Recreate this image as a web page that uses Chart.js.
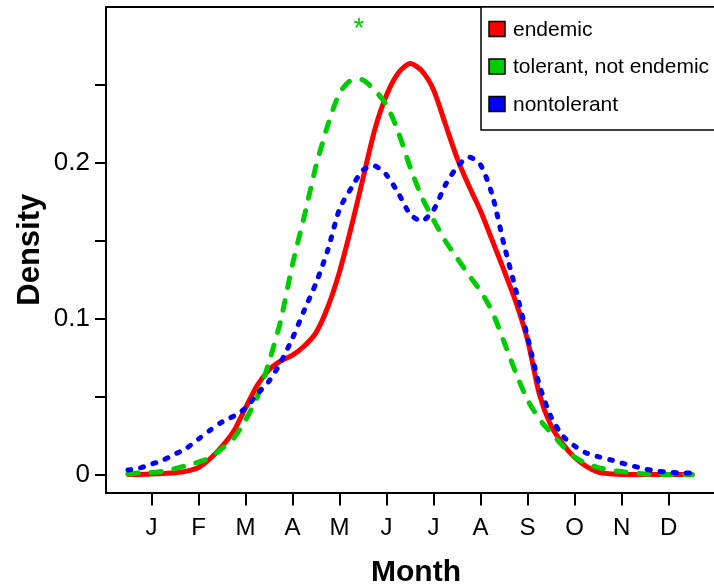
<!DOCTYPE html>
<html>
<head>
<meta charset="utf-8">
<script src="https://cdn.jsdelivr.net/npm/chart.js@4.4.1/dist/chart.umd.min.js"></script>
<style>
  html, body { margin: 0; padding: 0; background: #ffffff; overflow: hidden; }
  #wrap { width: 714px; height: 588px; position: relative; overflow: hidden; }
  #c { display: block; }
</style>
</head>
<body>
<div id="wrap"><canvas id="c" width="726" height="588"></canvas></div>
<script>
// ---- data ----
const MONTH_X = [0, 0.25, 0.5, 0.75, 1, 1.25, 1.5, 1.75, 2, 2.25, 2.5, 2.75, 3, 3.25, 3.5, 3.75,
  4, 4.25, 4.5, 4.75, 5, 5.25, 5.5, 5.75, 6, 6.25, 6.5, 6.75, 7, 7.25, 7.5, 7.75,
  8, 8.25, 8.5, 8.75, 9, 9.25, 9.5, 9.75, 10, 10.25, 10.5, 10.75, 11, 11.25, 11.5, 11.75, 12];

const ENDEMIC = [0, 0.0001, 0.0003, 0.0006, 0.0011, 0.0022, 0.0045, 0.0103, 0.0181, 0.0279,
  0.0428, 0.0572, 0.0671, 0.0728, 0.0766, 0.0824, 0.091, 0.1074, 0.1301, 0.1587,
  0.1901, 0.2212, 0.2433, 0.2574, 0.2635, 0.2587, 0.2465, 0.2247, 0.2029, 0.1851,
  0.1689, 0.1499, 0.1307, 0.1106, 0.0862, 0.0516, 0.0311, 0.0196, 0.0109, 0.0053,
  0.0016, 0.0005, 0.0001, 0, 0, 0, 0, 0, 0];

const TOLERANT = [0.0003, 0.001, 0.0013, 0.0022, 0.0038, 0.0058, 0.008, 0.0109, 0.0167, 0.0234,
  0.0349, 0.0497, 0.0721, 0.099, 0.1349, 0.1657, 0.1978, 0.224, 0.2446, 0.2529,
  0.2529, 0.2462, 0.2369, 0.2195, 0.1971, 0.1779, 0.1631, 0.1497, 0.1388, 0.1279,
  0.1176, 0.1042, 0.0849, 0.0651, 0.0478, 0.0356, 0.0266, 0.0183, 0.0112, 0.0071,
  0.0045, 0.0029, 0.0019, 0.001, 0.0003, 0, 0, 0, 0];

const NONTOLERANT = [0.0029, 0.0042, 0.0067, 0.0093, 0.0131, 0.017, 0.0228, 0.0285, 0.0337, 0.0375,
  0.0426, 0.0516, 0.0599, 0.0721, 0.0875, 0.1054, 0.1228, 0.1439, 0.1702, 0.1837,
  0.1952, 0.1978, 0.192, 0.1804, 0.167, 0.1625, 0.1696, 0.1856, 0.1971, 0.2035,
  0.1984, 0.179, 0.1471, 0.1183, 0.0881, 0.0574, 0.0369, 0.0247, 0.0183, 0.0138,
  0.0115, 0.0096, 0.0074, 0.0054, 0.0035, 0.0022, 0.0016, 0.001, 0.001];

const SERIES_NAMES = ['endemic', 'tolerant, not endemic', 'nontolerant'];
const MONTH_TICKS = [0.5, 1.5, 2.5, 3.5, 4.5, 5.5, 6.5, 7.5, 8.5, 9.5, 10.5, 11.5];
const MONTH_LABELS = ['J', 'F', 'M', 'A', 'M', 'J', 'J', 'A', 'S', 'O', 'N', 'D'];
const DENSITY_TICKS = [0, 0.05, 0.1, 0.15, 0.2, 0.25];
const DENSITY_LABELS = ['0', '', '0.1', '', '0.2', ''];
const MARK_X = [4.91];
const MARK_Y = [0.291];
const MARK_TEXT = ['*'];

// ---- styling ----
const COLORS = ['#FF0000', '#00CD00', '#0000FF'];
const FONT = "'Liberation Sans', Arial, Helvetica, sans-serif";
Chart.defaults.font.family = FONT;
Chart.defaults.color = '#000000';

function pts(ys) { return MONTH_X.map((x, i) => ({ x: x, y: ys[i] })); }

const frameAndLegend = {
  id: 'frameAndLegend',
  afterDraw(chart) {
    const ctx = chart.ctx;
    const a = chart.chartArea;
    ctx.save();
    // top frame line
    ctx.strokeStyle = '#000';
    ctx.lineWidth = 2;
    ctx.beginPath();
    ctx.moveTo(a.left - 1, a.top);
    ctx.lineTo(a.right, a.top);
    ctx.stroke();
    // right frame line (outside the visible window)
    ctx.beginPath();
    ctx.moveTo(a.right, a.top);
    ctx.lineTo(a.right, a.bottom);
    ctx.stroke();

    // legend box
    const lx = a.right - 245, ly = a.top;
    ctx.fillStyle = '#fff';
    ctx.fillRect(lx, ly, 245, 123);
    ctx.lineWidth = 1.5;
    ctx.strokeStyle = '#000';
    ctx.strokeRect(lx, ly, 245, 123);
    ctx.font = '21px ' + FONT;
    ctx.textBaseline = 'middle';
    ctx.textAlign = 'left';
    SERIES_NAMES.forEach((name, i) => {
      const cy = ly + 22 + i * 37.5;
      ctx.fillStyle = COLORS[i];
      ctx.fillRect(lx + 8, cy - 7.5, 16, 15);
      ctx.lineWidth = 1.5;
      ctx.strokeStyle = '#000';
      ctx.strokeRect(lx + 8, cy - 7.5, 16, 15);
      ctx.fillStyle = '#000';
      ctx.fillText(name, lx + 32, cy + 1);
    });

    // significance mark
    const xs = chart.scales.x, ys = chart.scales.y;
    ctx.fillStyle = COLORS[1];
    ctx.font = '28px ' + FONT;
    ctx.textAlign = 'center';
    ctx.textBaseline = 'alphabetic';
    MARK_TEXT.forEach((t, i) => {
      ctx.fillText(t, xs.getPixelForValue(MARK_X[i]), ys.getPixelForValue(MARK_Y[i]) + 16);
    });
    ctx.restore();
  }
};

new Chart(document.getElementById('c'), {
  type: 'line',
  data: {
    datasets: [
      { label: SERIES_NAMES[0], data: pts(ENDEMIC), borderColor: COLORS[0], borderWidth: 5,
        pointRadius: 0, fill: false, tension: 0.25, order: 3, borderCapStyle: 'round', borderJoinStyle: 'round' },
      { label: SERIES_NAMES[1], data: pts(TOLERANT), borderColor: COLORS[1], borderWidth: 5,
        pointRadius: 0, fill: false, tension: 0.25, order: 2, borderDash: [10, 13], borderCapStyle: 'round' },
      { label: SERIES_NAMES[2], data: pts(NONTOLERANT), borderColor: COLORS[2], borderWidth: 5,
        pointRadius: 0, fill: false, tension: 0.25, order: 1, borderDash: [3, 10], borderCapStyle: 'round' }
    ]
  },
  options: {
    responsive: false,
    animation: false,
    devicePixelRatio: 1,
    layout: { padding: { top: 7, right: 0, left: 0, bottom: 0 } },
    plugins: { legend: { display: false }, tooltip: { enabled: false } },
    scales: {
      x: {
        type: 'linear',
        position: 'bottom',
        min: -0.468,
        max: 12.72,
        afterBuildTicks(scale) { scale.ticks = MONTH_TICKS.map(v => ({ value: v })); },
        afterFit(scale) { scale.height = 95.5; scale.paddingLeft = 0; scale.paddingRight = 0; },
        ticks: {
          autoSkip: false, maxRotation: 0, padding: 8, color: '#000',
          font: { size: 24 },
          callback: (v, i) => MONTH_LABELS[i]
        },
        grid: { drawOnChartArea: false, drawTicks: true, tickLength: 13, color: '#000', lineWidth: 2 },
        border: { display: true, color: '#000', width: 2 },
        title: { display: true, text: 'Month', color: '#000', font: { size: 30, weight: 'bold' }, padding: { top: 8, bottom: -3 } }
      },
      y: {
        type: 'linear',
        min: -0.0115,
        max: 0.2997,
        afterBuildTicks(scale) { scale.ticks = DENSITY_TICKS.map(v => ({ value: v })); },
        afterFit(scale) { scale.width = 106; scale.paddingTop = 0; scale.paddingBottom = 0; },
        ticks: {
          autoSkip: false, padding: 5, color: '#000',
          font: { size: 26 },
          callback: (v, i) => DENSITY_LABELS[i]
        },
        grid: { drawOnChartArea: false, drawTicks: true, tickLength: 11, color: '#000', lineWidth: 2 },
        border: { display: true, color: '#000', width: 2 },
        title: { display: true, text: 'Density', color: '#000', font: { size: 31, weight: 'bold' }, padding: { top: 12, bottom: 0 } }
      }
    }
  },
  plugins: [frameAndLegend]
});
</script>
</body>
</html>
